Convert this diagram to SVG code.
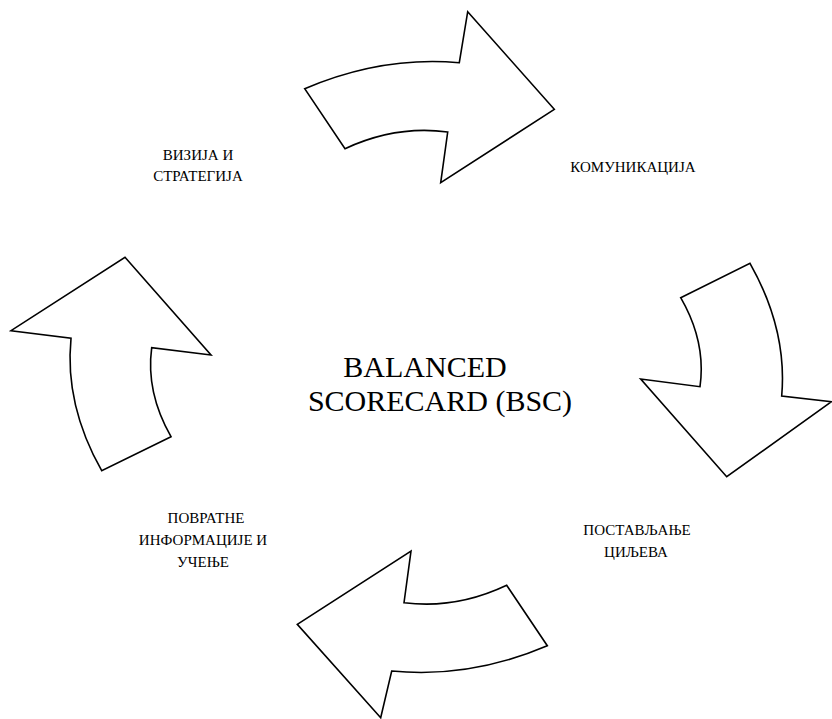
<svg xmlns="http://www.w3.org/2000/svg" width="832" height="719" viewBox="0 0 832 719">
<style>
.arr{fill:#fff;stroke:#000;stroke-width:1.6;stroke-linejoin:miter}
.lbl{font-family:"Liberation Serif","Times New Roman",serif;font-size:15px;fill:#000;text-anchor:middle}
.big{font-family:"Liberation Serif","Times New Roman",serif;font-size:30px;fill:#000;text-anchor:middle}
</style>
<rect width="832" height="719" fill="#fff"/>
<g id="connectors">
<path id="arrow-top" class="arr" d="M304.7,88.7 Q382,55.7 459.3,62.7 L467.7,11.7 L554.3,109.3 L440.7,182.7 L447.7,132 Q396,125 345,148.7 Z"/>
<path id="arrow-right" class="arr" d="M680.7,297.7 L750,263.3 Q787.5,329.7 781.7,396 L831.5,401.7 L726.7,476.7 L640.7,379 L700,386.7 Q706.3,342 680.7,297.7 Z"/>
<path id="arrow-bottom" class="arr" d="M547.3,645.7 Q469.8,678.7 391.7,671 L380.7,717.7 L297.3,624.3 L411,551 L404,602.7 Q455.8,609.4 506.7,585.3 Z"/>
<path id="arrow-left" class="arr" d="M171,436.7 L101.7,470.7 Q64.5,404.7 71,338.3 L11,330.7 L125,257.3 L211,355 L151.7,347.7 Q145.7,392.4 171,436.7 Z"/>
</g>
<g id="center">
<text class="big" x="425" y="377">BALANCED</text>
<text class="big" x="440" y="411">SCORECARD (BSC)</text>
</g>
<g id="vision">
<text class="lbl" x="198" y="160">ВИЗИЈА И</text>
<text class="lbl" x="198" y="181">СТРАТЕГИЈА</text>
</g>
<g id="communication">
<text class="lbl" x="633" y="172">КОМУНИКАЦИЈА</text>
</g>
<g id="goals">
<text class="lbl" x="637" y="535">ПОСТАВЉАЊЕ</text>
<text class="lbl" x="636" y="557">ЦИЉЕВА</text>
</g>
<g id="feedback">
<text class="lbl" x="206" y="523">ПОВРАТНЕ</text>
<text class="lbl" x="203" y="545">ИНФОРМАЦИЈЕ И</text>
<text class="lbl" x="203" y="567">УЧЕЊЕ</text>
</g>
</svg>
